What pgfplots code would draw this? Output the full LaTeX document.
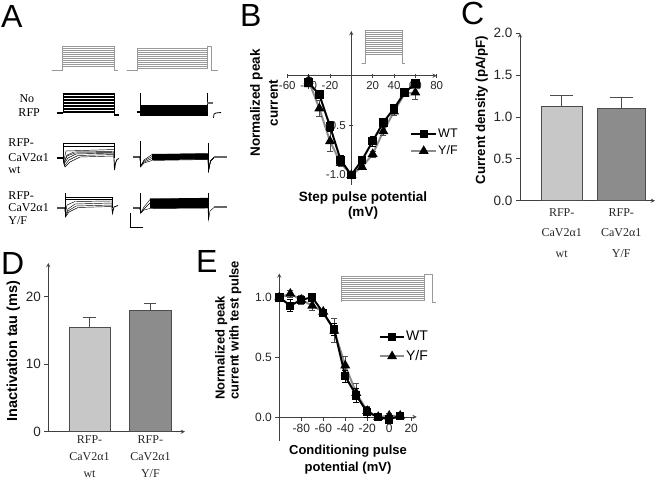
\documentclass[border=0pt]{standalone}
\usepackage{fontspec}
\setmainfont{Liberation Sans}
\newfontfamily\serif{Liberation Serif}
\usepackage{pgfplots}
\pgfplotsset{compat=1.18}
\newcommand\fs[2]{\fontsize{#1bp}{#2bp}\selectfont}
\pgfplotsset{
  panel/.style={scale only axis, clip=false, enlargelimits=false,
    axis line style={-, black!75, line width=0.9bp},
    tick style={black!75, line width=0.9bp}, major tick length=4bp,
    /pgf/number format/assume math mode=true,
    tick label style={text=black!85}},
  trace/.style={black, line width=0.45bp},
  prot/.style={black!40, line width=0.4bp},
  wt/.style={black, line width=2bp, mark=square*, mark size=3.2bp, mark options={solid, fill=black}},
  yf/.style={black!45, line width=2bp, mark=triangle*, mark size=3.8bp, mark options={solid, draw=black, fill=black}},
  ebar/.style={error bars/.cd, y dir=both, y explicit,
    error bar style={line width=0.8bp, #1}, error mark options={rotate=90, mark size=3bp, line width=0.8bp, #1}},
  ebar/.default=black,
  bbar/.style n args={3}{ybar, bar shift=0pt, bar width=#1, fill=#3, draw=black!70, line width=0.8bp,
    error bars/.cd, y dir=plus, y explicit, error bar style={black!70, line width=0.8bp},
    error mark options={rotate=90, mark size=#2, black!70, line width=0.8bp}},
}
\begin{document}
\begin{tikzpicture}
\useasboundingbox (0,0) rectangle (660bp,479bp);

% ---- overlay in pixel coordinates: traces of panel A and protocol insets
\begin{axis}[at={(0bp,0bp)}, anchor=south west, scale only axis, width=660bp, height=479bp,
  xmin=0, xmax=660, ymin=0, ymax=479, y dir=reverse, hide axis, clip=false]
% protocols, panel A
\pgfplotsinvokeforeach{46,48,50,52,54,56,58,60,62,64,66}{
  \addplot[prot] coordinates {(51.7,70) (62.3,70) (62.3,#1) (114,#1) (114,70) (118.3,70)};}
\pgfplotsinvokeforeach{48,50,52,54,56,58,60,62,64,66,68}{
  \addplot[prot] coordinates {(126.7,70) (136.7,70) (136.7,#1) (206.7,#1) (206.7,46) (210.7,46) (210.7,70) (218,70)};}
% No RFP
\pgfplotsinvokeforeach{93,94.5,96,97.5,99,100.5,102,103.5,105,106.5,108,109.5,111,112.5}{
  \addplot[trace] coordinates {(63.3,113) (63.3,#1) (114,#1) (114,115)};}
\addplot[black, line width=2bp] coordinates {(57,113) (63.3,113)};
\addplot[black, line width=2bp] coordinates {(114,115.5) (119,115.5)};
\addplot[fill=black, draw=black, line width=0.4bp] coordinates {(140,105) (207.3,105) (207.3,115) (140,115)} -- cycle;
\addplot[trace] coordinates {(140,93) (140,115)};
\addplot[trace] coordinates {(207.3,93) (207.3,115)};
\addplot[black, line width=1.5bp] coordinates {(136.7,112) (140,112)};
\addplot[black!60, line width=2bp] coordinates {(207.3,103) (213,103)};
\addplot[trace, line width=0.8bp] coordinates {(213.5,118) (214,114) (216,113) (221,112.5)};
% RFP-CaV2a1 wt
\addplot[black, line width=2.5bp] coordinates {(57,158) (63,158)};
\addplot[trace] coordinates {(63,158) (63,143) (114,143) (114,158)};
\addplot[trace] coordinates {(63,158) (63,146) (114,146) (114,158)};
\addplot[trace] coordinates {(63,158) (64,160) (66,151) (114,149.5) (114,158)};
\addplot[trace] coordinates {(63,158) (64,162) (67,155) (74,152) (114,151.5) (114,158)};
\addplot[trace] coordinates {(63,158) (64,163) (67,156) (75,153) (114,152.5) (114,158)};
\addplot[trace] coordinates {(63,158) (64,164) (68,158) (76,154) (114,153) (114,158)};
\addplot[trace] coordinates {(63,158) (64.5,166) (69,160) (78,155.5) (114,154.5) (114,158)};
\addplot[trace] coordinates {(63,158) (65,167) (70,162) (80,157) (114,156) (114,158)};
\addplot[trace, line width=0.8bp] coordinates {(114,158) (114.5,170) (115.5,163) (117,159.5) (119,158.5)};
\addplot[black!70, line width=2bp] coordinates {(133,157) (140,157)};
\addplot[fill=black, draw=none] coordinates {(152,154) (208,153.5) (208,159.5) (152,160)} -- cycle;
\addplot[trace] coordinates {(140,141) (140,167)};
\addplot[trace] coordinates {(208,143) (208,172)};
\addplot[trace] coordinates {(140,157) (140.6,166) (144,160) (152,154.5) (208,153.5) (208.5,171) (210.5,161) (214,157.5)};
\addplot[trace] coordinates {(140,157) (140.6,166) (144,161) (152,156.5) (208,155.5) (208.5,171) (210.5,161) (214,157.5)};
\addplot[trace] coordinates {(140,157) (140.6,166) (144,162) (152,158.5) (208,157.5) (208.5,171) (210.5,161) (214,157.5)};
\addplot[trace] coordinates {(140,157) (140.6,167) (144,163) (152,160.5) (208,159.5) (208.5,171) (210.5,161) (214,157.5)};
\addplot[black!60, line width=2.5bp] coordinates {(214,157) (227,157)};
% RFP-CaV2a1 Y/F
\addplot[black!70, line width=2bp] coordinates {(57,208) (65,208)};
\addplot[trace] coordinates {(65,193) (65,217)};
\addplot[trace] coordinates {(65,208) (65,197) (112,197) (112,208)};
\addplot[trace] coordinates {(65,208) (65,199) (112,199) (112,208)};
\addplot[trace] coordinates {(65,208) (65.5,213) (67,205) (75,201.5) (112,201) (112,208)};
\addplot[trace] coordinates {(65,208) (65.5,215) (68,209) (75,204) (112,203) (112,208)};
\addplot[trace] coordinates {(65,208) (65.5,217) (68,211) (76,206) (112,205) (112,208)};
\addplot[trace] coordinates {(65,208) (65.5,217) (69,212) (78,207.5) (112,206.5) (112,208)};
\addplot[trace, line width=0.8bp] coordinates {(112,208) (112.5,213) (114,207) (118,205.5)};
\addplot[black!70, line width=2bp] coordinates {(133,208) (140,208)};
\addplot[fill=black, draw=none] coordinates {(150,198.5) (208,198) (208,208) (150,208.5)} -- cycle;
\addplot[trace] coordinates {(140,193) (140,213)};
\addplot[trace] coordinates {(208,193) (208,220)};
\addplot[trace] coordinates {(140,208) (140.6,213) (144,207) (150,199.5) (208,198)};
\addplot[trace] coordinates {(140,208) (140.6,213) (144,209) (150,203) (208,202)};
\addplot[trace] coordinates {(140,208) (140.6,213) (144,210) (150,208.5) (208,208) (208.5,220) (210,211) (214,207.5)};
\addplot[black!60, line width=2.5bp] coordinates {(214,207) (227,207)};
% scale bar
\addplot[black, line width=0.8bp] coordinates {(130,213) (130,227) (143,227)};
% protocol insets of B and E
\pgfplotsinvokeforeach{30,32,34,36,38,40,42,44,46,48,50,52,54}{
  \addplot[prot] coordinates {(361.7,63.3) (365,63.3) (365,#1) (401.7,#1) (401.7,63.3) (405,63.3)};}
\pgfplotsinvokeforeach{276,278,280,282,284,286,288,290,292,294,296,298,300}{
  \addplot[prot] coordinates {(341,301.7) (341,#1) (424.3,#1) (424.3,274) (432.3,274) (432.3,301.7) (436,301.7)};}
\end{axis}

% ---- B: I-V curve
\begin{axis}[panel, at={(287.3bp,294.1bp)}, anchor=south west, width=149.4bp, height=153.9bp,
  xmin=-60, xmax=80, ymin=-1.1, ymax=0.45, axis lines=middle, tick align=center,
  xtick={-60,-40,-20,20,40,60,80}, ytick={-1,-0.5},
  yticklabel style={/pgf/number format/.cd, fixed, fixed zerofill, precision=1},
  tick label style={font=\fs{11.5}{13}},
  reverse legend,
  legend style={at={(axis cs:55,-0.673)}, anchor=west, draw=none, fill=none, inner sep=0pt,
    row sep=5bp, font=\fs{12.5}{14}, nodes={inner sep=1bp}},
  legend cell align=left,
  legend image code/.code={\draw[mark repeat=2,mark phase=2,#1] plot coordinates {(0bp,0bp) (12.5bp,0bp) (25bp,0bp)};}]
\addplot[yf, ebar=black!70] coordinates {
  (-40,-0.05) +- (0,0.03) (-30,-0.33) +- (0,0.08) (-20,-0.66) +- (0,0.10) (-10,-0.88) +- (0,0.03)
  (0,-1.0) +- (0,0) (10,-0.92) +- (0,0.02) (20,-0.79) +- (0,0.03) (30,-0.56) +- (0,0.04)
  (40,-0.36) +- (0,0.04) (50,-0.18) +- (0,0.02) (60,-0.17) +- (0,0.07)};
\addlegendentry{Y/F}
\addplot[wt, ebar] coordinates {
  (-40,-0.07) +- (0,0.02) (-30,-0.19) +- (0,0.03) (-20,-0.51) +- (0,0.05) (-10,-0.85) +- (0,0.05)
  (0,-1.0) +- (0,0) (10,-0.85) +- (0,0.03) (20,-0.66) +- (0,0.05) (30,-0.47) +- (0,0.04)
  (40,-0.33) +- (0,0.03) (50,-0.17) +- (0,0.02) (60,-0.08) +- (0,0.04)};
\addlegendentry{WT}
\end{axis}

% ---- C: current density
\begin{axis}[panel, at={(520bp,278.3bp)}, anchor=south west, width=135bp, height=167.4bp,
  xmin=520, xmax=655, ymin=0, ymax=2, axis x line=bottom, axis y line=left, tick align=outside,
  ytick={0,0.5,1,1.5,2},
  yticklabel style={/pgf/number format/.cd, fixed, fixed zerofill, precision=1},
  tick label style={font=\fs{13.5}{15}},
  xtick={561.7,621.3}, xtick style={draw=none},
  xticklabels={{RFP-\\CaV2α1\\wt},{RFP-\\CaV2α1\\Y/F}},
  xticklabel style={align=center, font=\serif\fs{12}{20.5}}]
\addplot[bbar={41.3bp}{11.5bp}{black!22}] coordinates {(561.7,1.13) +- (0,0.13)};
\addplot[bbar={48bp}{11.5bp}{black!45}] coordinates {(621.3,1.10) +- (0,0.14)};
\end{axis}

% ---- D: inactivation tau
\begin{axis}[panel, at={(48.3bp,47.3bp)}, anchor=south west, width=136.7bp, height=168.75bp,
  xmin=48.3, xmax=185, ymin=0, ymax=25, axis x line=bottom, axis y line=left, tick align=outside,
  ytick={0,10,20},
  tick label style={font=\fs{13.5}{15}},
  xtick={89.5,150.4}, xtick style={draw=none},
  xticklabels={{RFP-\\CaV2α1\\wt},{RFP-\\CaV2α1\\Y/F}},
  xticklabel style={align=center, font=\serif\fs{12}{17}, yshift=3.5bp}]
\addplot[bbar={41bp}{6bp}{black!22}] coordinates {(89.5,15.4) +- (0,1.5)};
\addplot[bbar={41bp}{6bp}{black!45}] coordinates {(150.4,17.9) +- (0,1.1)};
\end{axis}

% ---- E: steady-state inactivation
\begin{axis}[panel, at={(279.3bp,38.1bp)}, anchor=south west, width=137.4bp, height=167.5bp,
  xmin=-100, xmax=25, ymin=-0.2, ymax=1.2, axis x line=middle, axis y line=left, tick align=outside,
  xtick={-80,-60,-40,-20,0,20}, ytick={0,0.5,1},
  yticklabel style={/pgf/number format/.cd, fixed, fixed zerofill, precision=1},
  tick label style={font=\fs{12}{14}},
  reverse legend,
  legend style={at={(axis cs:-9.4,0.587)}, anchor=west, draw=none, fill=none, inner sep=0pt,
    row sep=6bp, font=\fs{14}{16}, nodes={inner sep=1bp}},
  legend cell align=left,
  legend image code/.code={\draw[mark repeat=2,mark phase=2,#1] plot coordinates {(0bp,0bp) (12bp,0bp) (24bp,0bp)};}]
\addplot[yf, ebar=black!70] coordinates {
  (-100,1.0) +- (0,0) (-90,1.03) +- (0,0.03) (-80,0.98) +- (0,0.04) (-70,0.93) +- (0,0.04)
  (-60,0.88) +- (0,0.02) (-50,0.72) +- (0,0.10) (-40,0.43) +- (0,0.08) (-30,0.20) +- (0,0.08)
  (-20,0.05) +- (0,0.04) (-10,0.0) +- (0,0.01) (0,0.01) +- (0,0.02) (10,0.01) +- (0,0.01)};
\addlegendentry{Y/F}
\addplot[wt, ebar] coordinates {
  (-100,1.0) +- (0,0) (-90,0.93) +- (0,0.05) (-80,0.98) +- (0,0.03) (-70,1.0) +- (0,0.02)
  (-60,0.87) +- (0,0.02) (-50,0.73) +- (0,0.05) (-40,0.34) +- (0,0.05) (-30,0.18) +- (0,0.06)
  (-20,0.04) +- (0,0.04) (-10,0.0) +- (0,0.01) (0,-0.02) +- (0,0.02) (10,0.01) +- (0,0.01)};
\addlegendentry{WT}
\end{axis}

% ---- texts
\node[anchor=base west, inner sep=0pt, font=\fs{32}{32}] at (1bp,451bp) {A};
\node[anchor=base west, inner sep=0pt, font=\fs{32}{32}] at (240bp,452bp) {B};
\node[anchor=base west, inner sep=0pt, font=\fs{32}{32}] at (461bp,454bp) {C};
\node[anchor=base west, inner sep=0pt, font=\fs{32}{32}] at (1bp,204bp) {D};
\node[anchor=base west, inner sep=0pt, font=\fs{32}{32}] at (196bp,206bp) {E};

\begin{scope}[every node/.style={anchor=west, inner sep=0pt, font=\serif\fs{12}{14}}]
\node at (19.3bp,380bp) {No};
\node at (18.3bp,366bp) {RFP};
\node at (8.3bp,336bp) {RFP-};
\node at (8.3bp,321.5bp) {CaV2α1};
\node at (8.3bp,309bp) {wt};
\node at (8.3bp,283bp) {RFP-};
\node at (8.3bp,271.5bp) {CaV2α1};
\node at (8.3bp,258bp) {Y/F};
\end{scope}

\node[align=center, font=\bfseries\fs{13.5}{15}] at (363bp,273.5bp) {Step pulse potential\\(mV)};
\node[rotate=90, align=center, font=\bfseries\fs{13.5}{18}] at (264bp,376bp) {Normalized peak\\current};
\node[rotate=90, font=\bfseries\fs{13.3}{15}] at (481.7bp,369bp) {Current density (pA/pF)};
\node[rotate=90, font=\bfseries\fs{14.5}{16}] at (13.3bp,128bp) {Inactivation tau (ms)};
\node[align=center, font=\bfseries\fs{13}{17.6}] at (348bp,19.5bp) {Conditioning pulse\\potential (mV)};
\node[rotate=90, anchor=west, align=left, font=\bfseries\fs{13}{14}] at (228.3bp,76bp) {Normalized peak\\current with test pulse};
\end{tikzpicture}
\end{document}
